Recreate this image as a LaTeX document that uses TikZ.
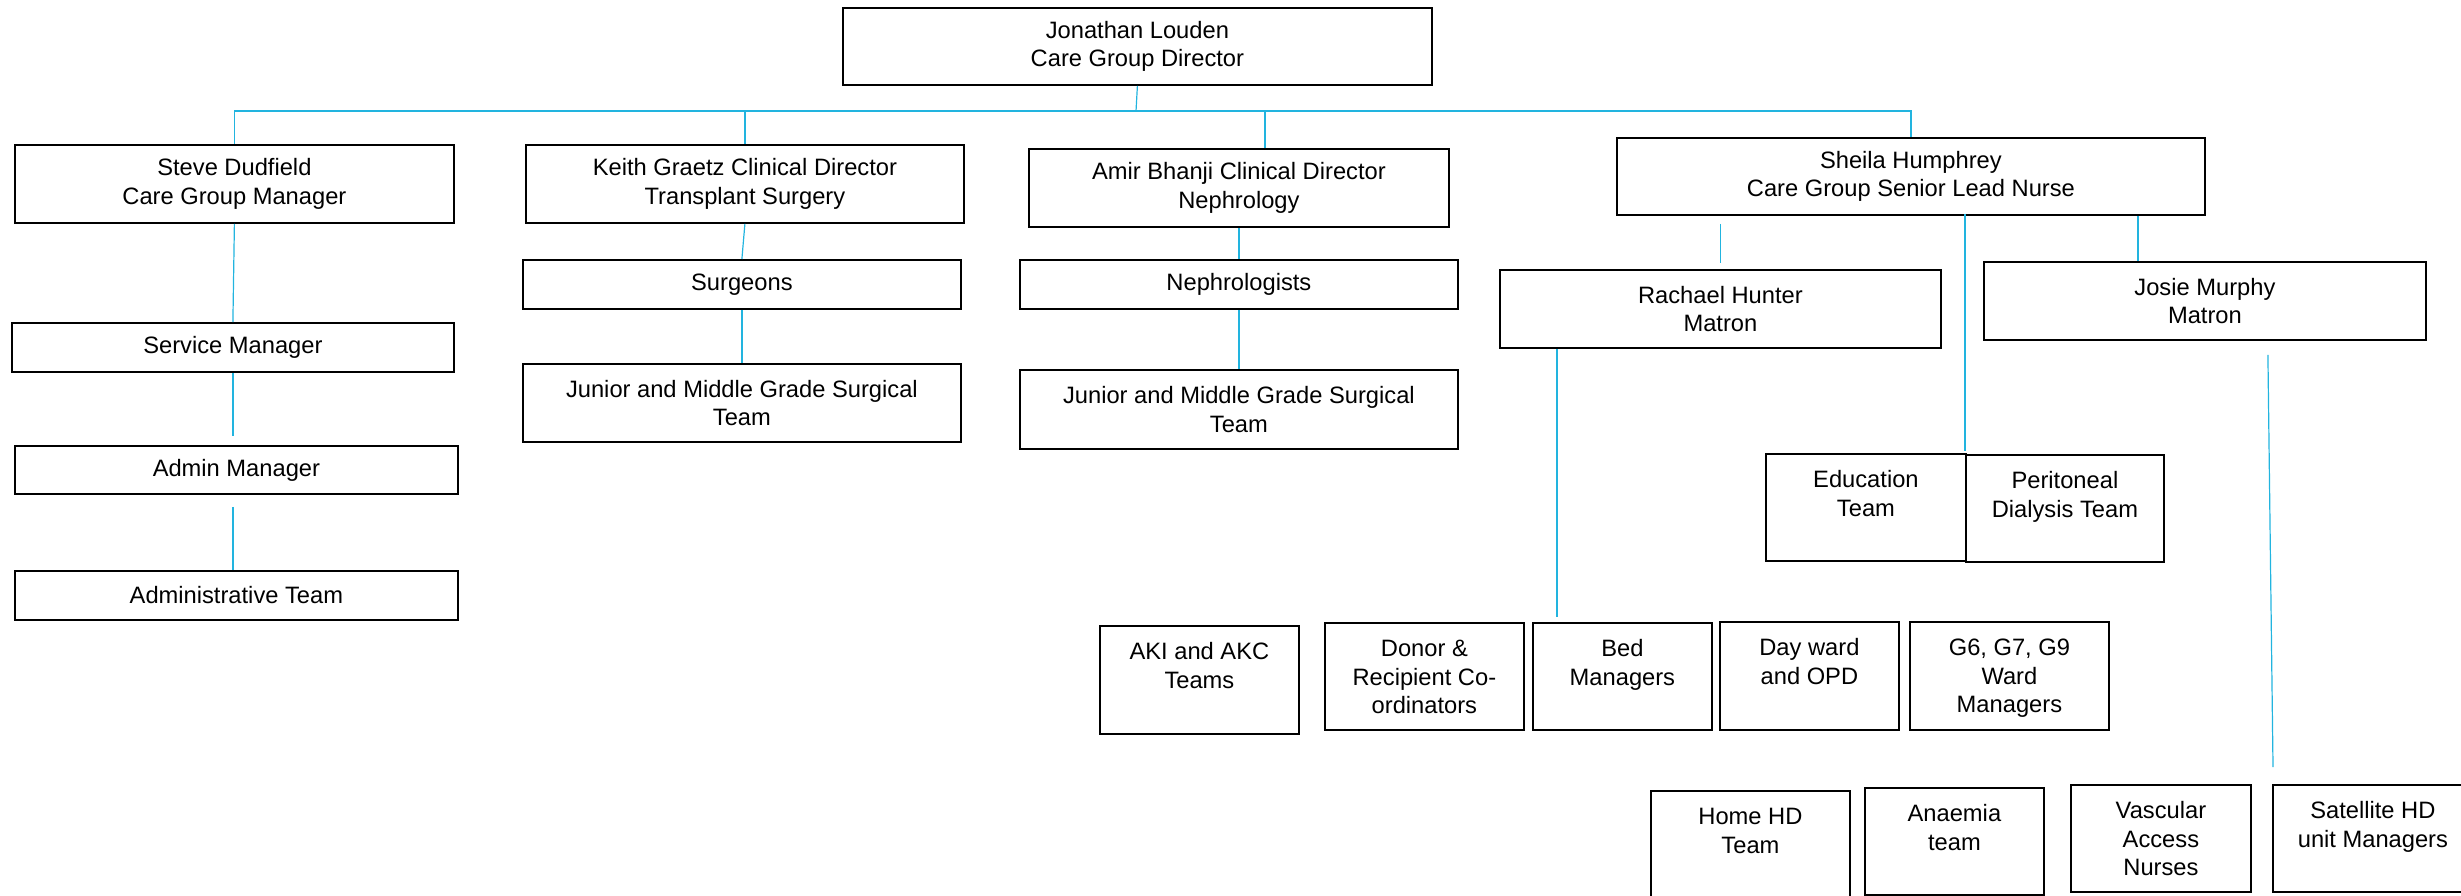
\documentclass[tikz,border=0pt]{standalone}
\usepackage{fontspec}
\setmainfont{Liberation Sans}
\usepackage{tikz}
\usetikzlibrary{positioning}

\definecolor{linkblue}{HTML}{22B4DF}
\newcommand{\orgfont}{\fontsize{11.85pt}{14.25pt}\selectfont}
\newcommand{\toptext}[3]{\parbox[c][#2][t]{#1}{\centering\rule{0pt}{17pt}#3}}

\begin{document}
\begin{tikzpicture}[x=0.5pt,y=-0.5pt]
      \tikzstyle{box}=[draw,line width=0.9pt,inner sep=0pt,anchor=north west,align=center,font=\orgfont]
      \tikzstyle{link}=[draw=linkblue,line width=0.6pt]

      \useasboundingbox (0,0) rectangle (2461,895);

      % director
      \node[box,minimum width=294.5pt,minimum height=38.5pt] (louden) at (842,7) {Jonathan Louden\\Care Group Director};

      % second level
      \node[box,minimum width=219.5pt,minimum height=39pt] (steve) at (14,144) {Steve Dudfield\\Care Group Manager};
      \node[box,minimum width=219pt,minimum height=39pt] (keith) at (525,144) {Keith Graetz Clinical Director\\Transplant Surgery};
      \node[box,minimum width=210pt,minimum height=39pt] (amir) at (1028,148) {Amir Bhanji Clinical Director\\Nephrology};
      \node[box,minimum width=294pt,minimum height=38.5pt] (sheila) at (1616,137) {Sheila Humphrey\\Care Group Senior Lead Nurse};

      % management column
      \node[box,minimum width=221pt,minimum height=24.5pt] (service) at (11,322) {Service Manager};
      \node[box,minimum width=221.5pt,minimum height=24pt] (admin) at (14,445) {Admin Manager};
      \node[box,minimum width=221.5pt,minimum height=24.5pt] (adminteam) at (14,570) {Administrative Team};

      % surgery and nephrology
      \node[box,minimum width=219pt,minimum height=24.5pt] (surgeons) at (522,259) {Surgeons};
      \node[box,minimum width=219pt,minimum height=39pt] (jsurg) at (522,363) {Junior and Middle Grade Surgical\\Team};
      \node[box,minimum width=219pt,minimum height=24.5pt] (nephro) at (1019,259) {Nephrologists};
      \node[box,minimum width=219pt,minimum height=39.5pt] (jneph) at (1019,369) {Junior and Middle Grade Surgical\\Team};

      % nursing
      \node[box,minimum width=220.5pt,minimum height=39pt] (rachael) at (1499,269) {Rachael Hunter\\Matron};
      \node[box,minimum width=221pt,minimum height=39pt] (josie) at (1983,261) {Josie Murphy\\Matron};
      \node[box] (educ) at (1765,453) {\toptext{100pt}{53.5pt}{Education\\Team}};
      \node[box] (perit) at (1965,454) {\toptext{99pt}{53.5pt}{Peritoneal\\Dialysis Team}};

      \node[box] (aki) at (1099,625) {\toptext{99.5pt}{54pt}{AKI and AKC\\Teams}};
      \node[box] (donor) at (1324,622) {\toptext{99.5pt}{53.5pt}{Donor \&\\Recipient Co-\\ordinators}};
      \node[box] (bed) at (1532,622) {\toptext{89.5pt}{53.5pt}{Bed\\Managers}};
      \node[box] (dayward) at (1719,621) {\toptext{89.5pt}{54pt}{Day ward\\and OPD}};
      \node[box] (wards) at (1909,621) {\toptext{99.5pt}{54pt}{G6, G7, G9\\Ward\\Managers}};

      \node[box] (homehd) at (1650,790) {\toptext{99.5pt}{53.5pt}{Home HD\\Team}};
      \node[box] (anaemia) at (1864,787) {\toptext{89.5pt}{53.5pt}{Anaemia\\team}};
      \node[box] (vascular) at (2070,784) {\toptext{90pt}{53.5pt}{Vascular\\Access\\Nurses}};
      \node[box] (satellite) at (2272,784) {\toptext{100pt}{53.5pt}{Satellite HD\\unit Managers}};

      % connectors
      \coordinate (bus) at (1136,111);
      \draw[link] (louden.south) -- (bus);
      \draw[link] (bus) -| (steve.north);
      \draw[link] (bus) -| (keith.north);
      \draw[link] (bus) -| ([xshift=13pt]amir.north);
      \draw[link] (bus) -| (sheila.north);

      \draw[link] (steve.south) -- (service.north);
      \draw[link] (service.south) -- ([yshift=4.5pt]service.south |- admin.north);
      \draw[link] ([yshift=-6pt]service.south |- admin.south) -- (service.south |- adminteam.north);

      \draw[link] (keith.south) -- (surgeons.north);
      \draw[link] (surgeons.south) -- (jsurg.north);
      \draw[link] (amir.south) -- (nephro.north);
      \draw[link] (nephro.south) -- (jneph.north);

      \draw[link] ([yshift=-4pt]sheila.south -| rachael.north) -- ([yshift=3pt]rachael.north);
      \draw[link] ([yshift=1pt]sheila.south -| perit.north west) -- ([yshift=1.5pt]perit.north west);
      \draw[link] ([xshift=-33.5pt]josie.north |- sheila.south) -- ([xshift=-33.5pt]josie.north);
      \draw[link] ([xshift=-81.75pt]rachael.south) -- ([xshift=-81.75pt,yshift=2.5pt]rachael.south |- bed.north);
      \draw[link] ([xshift=31.5pt,yshift=-7pt]josie.south) -- ([xshift=0.5pt,yshift=8.5pt]satellite.north west);

    \end{tikzpicture}
\end{document}
